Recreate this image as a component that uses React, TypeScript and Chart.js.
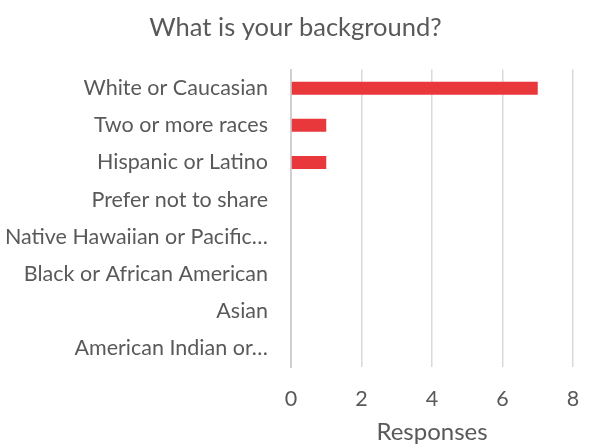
import React, { useEffect, useRef } from "react";
import { Chart, registerables } from "chart.js";

Chart.register(...registerables);

const categories = [
  "White or Caucasian",
  "Two or more races",
  "Hispanic or Latino",
  "Prefer not to share",
  "Native Hawaiian or Pacific…",
  "Black or African American",
  "Asian",
  "American Indian or…",
];
const responses = [7, 1, 1, 0, 0, 0, 0, 0];
const xTicks = [0, 2, 4, 6, 8];
const titleText = "What is your background?";
const xTitle = "Responses";

const FONT = "Lato, 'Open Sans', sans-serif";
const GRAY = "#595959";

export default function App() {
  const ref = useRef<HTMLCanvasElement>(null);
  useEffect(() => {
    document.body.style.margin = "0";
    const ctx = ref.current!;
    const chart = new Chart(ctx, {
      type: "bar",
      data: {
        labels: categories,
        datasets: [
          {
            data: responses,
            backgroundColor: "#E8383B",
            borderWidth: 0,
            inflateAmount: 0,
            barThickness: 13,
          },
        ],
      },
      options: {
        indexAxis: "y",
        animation: false,
        responsive: false,
        layout: { padding: { left: 0, right: 0, top: 0, bottom: 0 } },
        plugins: {
          legend: { display: false },
          tooltip: { enabled: false },
          title: {
            display: true,
            text: titleText,
            color: GRAY,
            font: { family: FONT, size: 25.5, weight: "normal", lineHeight: 1.2 },
            padding: { top: 12, bottom: 27 },
          },
        },
        scales: {
          x: {
            min: 0,
            max: 8,
            afterBuildTicks: (s: any) => {
              s.ticks = xTicks.map((v) => ({ value: v }));
            },
            afterFit: (s: any) => {
              s.height = 80;
              s.paddingRight = 18;
            },
            grid: { color: "#D9D9D9", lineWidth: 1.5, drawTicks: false },
            border: { display: false },
            ticks: {
              color: GRAY,
              padding: 19,
              font: { family: FONT, size: 21.5 },
            },
            title: {
              display: true,
              text: xTitle,
              color: GRAY,
              font: { family: FONT, size: 24 },
              padding: { top: 0, bottom: 0 },
            },
          },
          y: {
            afterFit: (s: any) => {
              s.width = 291;
            },
            grid: { display: false, drawTicks: false },
            border: { display: true, color: "#D0D0D0", width: 2 },
            ticks: {
              color: GRAY,
              padding: 23,
              autoSkip: false,
              font: { family: FONT, size: 21.5 },
            },
          },
        },
      },
    });
    return () => chart.destroy();
  }, []);
  return (
    <div style={{ width: 591, height: 447 }}>
      <canvas ref={ref} width={591} height={447} />
    </div>
  );
}
